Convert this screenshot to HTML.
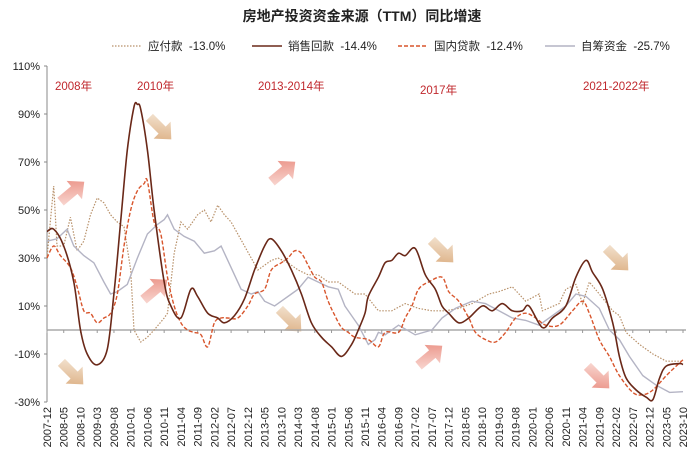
<!DOCTYPE html>
<html><head><meta charset="utf-8"><style>
body{margin:0;background:#fff;width:700px;height:465px;overflow:hidden}
svg text{font-family:"Liberation Sans","Noto Sans CJK SC",sans-serif}
</style></head><body>
<svg id="chart" width="700" height="465" xmlns="http://www.w3.org/2000/svg">
<defs>
<linearGradient id="gRed" x1="0" y1="1" x2="1" y2="0"><stop offset="0" stop-color="#fbe3de"/><stop offset="1" stop-color="#e8877a"/></linearGradient>
<linearGradient id="gTan" x1="0" y1="0" x2="1" y2="1"><stop offset="0" stop-color="#f6eadb"/><stop offset="1" stop-color="#d9a878"/></linearGradient>
<linearGradient id="gRed2" x1="0" y1="0" x2="1" y2="1"><stop offset="0" stop-color="#fbe3de"/><stop offset="1" stop-color="#e8877a"/></linearGradient>
</defs>
<text x="362" y="21" text-anchor="middle" font-size="14" font-weight="bold" fill="#222">房地产投资资金来源（TTM）同比增速</text>
<g id="legend"></g>
<g id="annotations"></g>
<g id="axes"></g>
<g id="series"></g>
</svg>
<script>
const monthsPay=[0,1,2,3,5,7,9,11,13,15,17,19,21,23,25,26,28,30,32,35,36,38,40,42,45,47,49,51,53,55,57,59,61,63,65,67,69,72,75,78,81,84,87,90,92,95,99,103,107,111,115,119,123,127,132,135,139,143,147,148,153,155,158,160,162,165,169,171,173,177,181,185,190];
const valuesPay=[30,45,60,35,35,47,33,37,48,55,53,48,45,43,25,0,-5,-3,0,5,7,32,45,42,48,50,45,52,48,45,40,35,30,25,27,29,30,28,25,23,23,20,20,17,15,15,8,8,11,9,8,8,9,11,15,16,18,12,15,8,11,17,19,11,20,15,8,6,-1,-6,-10,-13,-13];
const monthsSales=[0,2,5,8,10,12,15,18,20,22,24,26,27,28,30,32,35,37,40,43,45,48,51,53,56,59,62,65,67,70,73,76,79,82,85,88,91,93,95,96,99,101,103,105,107,110,113,116,118,120,123,126,130,133,136,139,142,144,148,151,155,158,161,163,166,169,171,173,176,179,181,183,185,189,190];
const valuesSales=[41,42,35,20,0,-10,-14.5,-8,15,45,75,93,94,92,75,50,20,10,5,17,14,7,5,3,6,13,25,35,38,33,25,15,3,-3,-7,-11,-6,0,7,14,22,28,29,32,31,34,23,17,10,7,3,5,10,8,11,8,8,10,1,5,10,22,29,24,17,3,-11,-20,-25,-28,-29,-20,-15,-14,-14.4];
const monthsLoan=[0,2,4,7,9,11,13,15,17,19,21,23,25,27,29,30,32,34,36,38,40,42,44,46,48,50,52,54,57,60,62,65,67,70,72,74,76,78,80,82,84,86,88,90,92,96,99,101,105,107,109,111,114,118,120,123,126,128,131,134,137,140,143,146,149,153,157,160,162,165,168,171,175,178,181,185,188,190];
const valuesLoan=[30,35,31,26,18,8,7,3,5,7,15,35,50,58,61,62,45,40,22,10,3,0,-1,-2,-7,3,5,5,5,10,15,17,25,28,30,33,32,27,22,20,12,6,1,-1,-3,-4,-7,-1,-1,5,10,17,20,22,16,12,5,-1,-4,-5,-1,5,7,5,2,2,8,12,7,-4,-11,-19,-26,-27,-25,-19,-15,-12.4];
const monthsSelf=[0,3,6,8,11,14,17,19,21,24,27,30,33,35,36,38,41,44,47,50,52,55,58,61,63,65,68,70,73,75,78,81,84,87,89,91,93,96,98,99,101,105,110,115,118,122,127,131,135,139,143,147,151,155,158,161,165,168,171,174,178,182,186,190];
const valuesSelf=[37,38,42,35,31,28,20,15,16,19,30,40,44,46,48,42,39,37,32,33,35,26,17,15,16,12,10,12,15,17,22,20,18,17,10,6,2,-6,-4,-1,-2,2,-2,0,5,9,12,11,8,5,4,2,6,10,15,14,9,0,-4,-11,-19,-23,-26,-25.7];
const yTicks=[110,90,70,50,30,10,-10,-30];
const xTickLabels=[];
(function(){let y=2007,m=12;for(let i=0;i<=190;i+=5){xTickLabels.push(y+'-'+String(m).padStart(2,'0'));m+=5;while(m>12){m-=12;y++;}}})();
const legendNames=['应付款','销售回款','国内贷款','自筹资金'];
const legendValues=['-13.0%','-14.4%','-12.4%','-25.7%'];

const NS='http://www.w3.org/2000/svg';
const X0=47,X1=683,M=190,Y0=330,PY=2.4;
const xs=m=>X0+m*(X1-X0)/M;
const ys=v=>Y0-v*PY;
function el(t,a,p){const e=document.createElementNS(NS,t);for(const k in a)e.setAttribute(k,a[k]);p.appendChild(e);return e;}
const axes=document.getElementById('axes');
const ax=el('line',{x1:X0,y1:ys(110),x2:X0,y2:ys(-30),stroke:'#888','stroke-width':1},axes);


yTicks.forEach(t=>{
  const tx=el('text',{x:X0-7,y:ys(t)+4,'text-anchor':'end','font-size':11,fill:'#222'},axes);
  tx.textContent=t+'%';
  
  
  el('line',{x1:X0-3,y1:ys(t),x2:X0,y2:ys(t),stroke:'#888'},axes);
});
const zl=el('line',{x1:X0,y1:ys(0),x2:X1+3,y2:ys(0),stroke:'#aaa','stroke-width':1.5},axes);


xTickLabels.forEach((lab,i)=>{
  const x=xs(i*5);
  el('line',{x1:x,y1:ys(0),x2:x,y2:ys(0)+3,stroke:'#999'},axes);
  const t=el('text',{x:0,y:0,'text-anchor':'end','font-size':11,fill:'#222',transform:`translate(${x+4},${407}) rotate(-90)`},axes);
  t.textContent=lab;
  
  
});
const series=document.getElementById('series');
function line(ms,vs,style,name,smooth){
  const P=ms.map((m,i)=>[xs(m),ys(vs[i])]);
  let d='M'+P[0][0].toFixed(1)+','+P[0][1].toFixed(1);
  for(let i=0;i<P.length-1;i++){
    if(!smooth){d+='L'+P[i+1][0].toFixed(1)+','+P[i+1][1].toFixed(1);continue;}
    const p0=P[Math.max(0,i-1)],p1=P[i],p2=P[i+1],p3=P[Math.min(P.length-1,i+2)];
    const c1=[p1[0]+(p2[0]-p0[0])/6,p1[1]+(p2[1]-p0[1])/6];
    const c2=[p2[0]-(p3[0]-p1[0])/6,p2[1]-(p3[1]-p1[1])/6];
    d+='C'+c1.map(v=>v.toFixed(1)).join(',')+' '+c2.map(v=>v.toFixed(1)).join(',')+' '+p2.map(v=>v.toFixed(1)).join(',');
  }
  const p=el('path',Object.assign({d:d,fill:'none'},style),series);
  
  
}
line(monthsPay,valuesPay,{stroke:'#b8916a','stroke-width':1.2,'stroke-dasharray':'1.5,1.5'},'payables-line',false);
line(monthsSelf,valuesSelf,{stroke:'#b4b4c4','stroke-width':1.4},'self-raised-line',false);
line(monthsLoan,valuesLoan,{stroke:'#d8552c','stroke-width':1.4,'stroke-dasharray':'4,2'},'domestic-loans-line',true);
line(monthsSales,valuesSales,{stroke:'#6a2818','stroke-width':1.6},'sales-proceeds-line',true);

const lg=document.getElementById('legend');
const lstyles=[{stroke:'#b8916a','stroke-dasharray':'1.5,1.5','stroke-width':1.2},{stroke:'#6a2818','stroke-width':1.6},{stroke:'#d8552c','stroke-dasharray':'4,2','stroke-width':1.4},{stroke:'#b4b4c4','stroke-width':1.6}];
const lx=[112,252,398,545];
legendNames.forEach((n,i)=>{
  const g=el('g',{},lg);
  
  
  el('line',Object.assign({x1:lx[i],y1:46,x2:lx[i]+30,y2:46},lstyles[i]),g);
  const t=el('text',{x:lx[i]+36,y:50,'font-size':11.5,fill:'#222','xml:space':'preserve'},g);
  t.textContent=n+'\u00a0\u00a0'+legendValues[i];
});
const an=document.getElementById('annotations');
[['2008年',55,90],['2010年',137,90],['2013-2014年',258,90],['2017年',420,94],['2021-2022年',583,90]].forEach(a=>{
  const t=el('text',{x:a[1],y:a[2],'font-size':11.5,fill:'#c0282d'},an);
  t.textContent=a[0];
  
  
});
function arrow(cx,cy,ang,fill){
  const g=el('g',{transform:`translate(${cx},${cy}) rotate(${ang})`},an);
  
  
  el('polygon',{points:'-15,-5 3,-5 3,-12 16,0 3,12 3,5 -15,5',fill:fill},g);
}
arrow(72,192,-40,'url(#gRed)');
arrow(155,290,-40,'url(#gRed)');
arrow(283,172,-40,'url(#gRed)');
arrow(430,356,-40,'url(#gRed)');
arrow(72,373,45,'url(#gTan)');
arrow(160,128,45,'url(#gTan)');
arrow(290,320,45,'url(#gTan)');
arrow(442,251,45,'url(#gTan)');
arrow(617,259,45,'url(#gTan)');
arrow(598,377,45,'url(#gRed2)');
</script>
</body></html>
